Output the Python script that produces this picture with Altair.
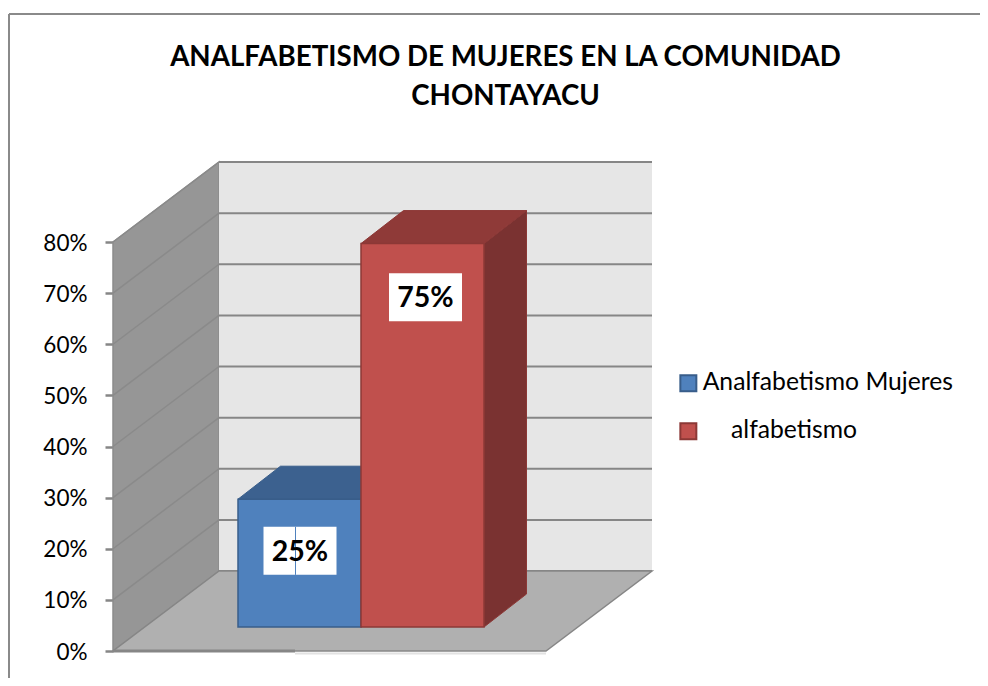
import altair as alt
import pandas as pd

# ---- values
categories = ["Analfabetismo Mujeres", "\u200b\u00a0\u00a0\u00a0\u00a0\u2009alfabetismo"]
values = [25, 75]
labels = ["25%", "75%"]
axis_ticks = [0, 10, 20, 30, 40, 50, 60, 70, 80]
title_lines = ["ANALFABETISMO DE MUJERES EN LA COMUNIDAD", "CHONTAYACU"]

# ---- styles
FONT = "Lato"
front = ["#4f81bd", "#c0504d"]
edge = ["#385d8a", "#8c3836"]
top_col = ["#3c618f", "#8f3a38"]
side_col = ["#385d8a", "#7a3231"]
GRID = "#868686"

# ---- layout of the oblique projection (x in picture px, y in percent)
PX = 5.1125           # px per percent
WALL_L, WALL_R = 113, 546
DEPTH_X, DEPTH_Y = 106, 80 / PX
BAR_L, BAR_W = 238, 123
BAR_BASE = 24 / PX
BAR_DX, BAR_DY = 42.5, 33 / PX
TOP = 80
Y_MIN = (651 - 678) / PX
Y_MAX = (651 - 8) / PX

xs = alt.Scale(domain=[8, 980], nice=False, zero=False)
ys = alt.Scale(domain=[Y_MIN, Y_MAX], nice=False, zero=False)
X = lambda f="x": alt.X(f"{f}:Q", scale=xs, axis=None)
Y = lambda f="y": alt.Y(f"{f}:Q", scale=ys, axis=None)
X2 = lambda f="x2": alt.X2(f"{f}:Q")
Y2 = lambda f="y2": alt.Y2(f"{f}:Q")

layers = []


def rect(x, x2, y, y2, **kw):
    d = pd.DataFrame({"x": [x], "x2": [x2], "y": [y], "y2": [y2]})
    layers.append(alt.Chart(d).mark_rect(**kw).encode(x=X(), x2=X2(), y=Y(), y2=Y2()))


def vface(x0, x1, y0, y1, dy, **kw):
    """parallelogram with vertical sides (x0..x1, rising by dy)"""
    d = pd.DataFrame({"x": [x0, x1], "y": [y0, y0 + dy], "y2": [y1, y1 + dy]})
    layers.append(alt.Chart(d).mark_area(orient="vertical", **kw).encode(x=X(), y=Y(), y2=Y2()))


def hface(x0, x1, dx, y, dy, **kw):
    """parallelogram with horizontal sides (at y and y + dy, shifted by dx)"""
    d = pd.DataFrame({"y": [y, y + dy], "x": [x0, x0 + dx], "x2": [x1, x1 + dx]})
    layers.append(alt.Chart(d).mark_area(orient="horizontal", **kw).encode(y=Y(), x=X(), x2=X2()))


def rule(x, x2, y, y2=None, **kw):
    y2 = y if y2 is None else y2
    d = pd.DataFrame({"x": [x, x2], "y": [y, y2]})
    layers.append(alt.Chart(d).mark_line(**kw).encode(x=X(), y=Y()))


# chart frame
frame_y = (651 - 14) / PX
rule(9, 980, frame_y, color="#8a8a8a", strokeWidth=2)
rule(9, 9, frame_y, Y_MIN, color="#8a8a8a", strokeWidth=2)

# axis (ticks and labels only)
tick_df = pd.DataFrame({"v": axis_ticks})
layers.append(
    alt.Chart(tick_df).mark_point(opacity=0).encode(
        x=alt.value(0),
        y=alt.Y("v:Q", scale=ys, axis=alt.Axis(
            values=axis_ticks, title=None, domain=False, grid=False,
            labelExpr="datum.value + '%'", labelFont=FONT, labelFontSize=22.5,
            labelColor="#000000", labelPadding=18, labelOffset=1, tickColor=GRID, tickWidth=2.5,
            tickSize=8, offset=-105)),
    )
)

# walls and floor
vface(WALL_L, WALL_L + DEPTH_X, 0, TOP, DEPTH_Y, fill="#969696", stroke="#8c8c8c", strokeWidth=1.5)
rect(WALL_L + DEPTH_X, WALL_R + DEPTH_X, DEPTH_Y, TOP + DEPTH_Y, fill="#e6e6e6")
for t in axis_ticks:
    rule(WALL_L + DEPTH_X, WALL_R + DEPTH_X, t + DEPTH_Y, color=GRID, strokeWidth=2)
    if 0 < t < TOP:
        rule(WALL_L, WALL_L + DEPTH_X, t, t + DEPTH_Y, color="#8a8a8a", strokeWidth=1.5)
rule(WALL_L + DEPTH_X, WALL_R + DEPTH_X, TOP + DEPTH_Y, color=GRID, strokeWidth=2)
rule(WALL_L, WALL_L + DEPTH_X, TOP, TOP + DEPTH_Y, color="#8a8a8a", strokeWidth=1.5)
hface(WALL_L, WALL_R, DEPTH_X, 0, DEPTH_Y, fill="#b0b0b0", stroke=GRID, strokeWidth=1.5)
rule(WALL_L + 182, WALL_R, -0.5, color="#e2e2e2", strokeWidth=2)
rule(WALL_L, WALL_L + 182, 0, color=GRID, strokeWidth=3)

# 3-D bars: depth faces, then front face with the legend
bars = pd.DataFrame({"serie": categories, "v": values, "i": range(len(values))})
for i, v in enumerate(values):
    x0 = BAR_L + i * BAR_W
    x1 = x0 + BAR_W
    vface(x1, x1 + BAR_DX, BAR_BASE, v + BAR_BASE, BAR_DY, fill=side_col[i], stroke=edge[i], strokeWidth=1)
    hface(x0, x1, BAR_DX, v + BAR_BASE, BAR_DY, fill=top_col[i], stroke=edge[i], strokeWidth=1)

bars["x"] = [BAR_L + i * BAR_W for i in bars["i"]]
bars["x2"] = bars["x"] + BAR_W
bars["top"] = bars["v"] + BAR_BASE
bars["base"] = BAR_BASE
legend = alt.Legend(
    title=None, orient="none", legendX=668, legendY=363, symbolType="square",
    symbolSize=256, symbolStrokeWidth=2, labelFont=FONT, labelFontSize=24.7,
    labelColor="#000000", rowPadding=22, labelOffset=2, labelLimit=300,
)
layers.append(
    alt.Chart(bars).mark_bar(strokeWidth=1.5).encode(
        x=X(), x2=X2(), y=Y("top"), y2=Y2("base"),
        fill=alt.Fill("serie:N", scale=alt.Scale(domain=categories, range=front), legend=legend, sort=None),
        stroke=alt.Stroke("serie:N", scale=alt.Scale(domain=categories, range=edge), legend=legend, sort=None),
    )
)

# data labels on white boxes
lab = pd.DataFrame({"t": labels, "v": values})
lab["c"] = [BAR_L + (i + 0.5) * BAR_W + (0.5 + 2.5 * i) for i in range(len(values))]
lab["m"] = lab["v"] + BAR_BASE - 10.1 - lab.index * 0.4
lab["tm"] = lab["m"] - 0.2
lab["x"] = lab["c"] - 36.5
lab["x2"] = lab["c"] + 36.5
lab["y"] = lab["m"] - 4.7
lab["y2"] = lab["m"] + 4.7
layers.append(
    alt.Chart(lab).mark_rect(fill="#ffffff").encode(x=X(), x2=X2(), y=Y(), y2=Y2())
)
rule(295.5, 295.5, lab["y"][0], lab["y2"][0], color=front[0], strokeWidth=1)
layers.append(
    alt.Chart(lab).mark_text(font=FONT, fontSize=28.5, fontWeight="bold", color="#000000", baseline="middle").encode(
        x=X("c"), y=Y("tm"), text="t:N"
    )
)

# title
ttl = pd.DataFrame({"t": title_lines, "x": [505.5, 505.5], "y": [(651 - 58) / PX, (651 - 97) / PX]})
layers.append(
    alt.Chart(ttl).mark_text(font=FONT, fontSize=27.7, fontWeight="bold", color="#000000", baseline="middle").encode(
        x=X(), y=Y(), text="t:N"
    )
)

chart = (
    alt.layer(*layers)
    .resolve_axis(y="independent")
    .properties(width=972, height=670, padding=0, autosize=alt.AutoSizeParams(type="none"), background="#ffffff")
    .configure_view(stroke=None)
)
chart.save("out.html", embed_options={"renderer": "svg", "actions": False})
